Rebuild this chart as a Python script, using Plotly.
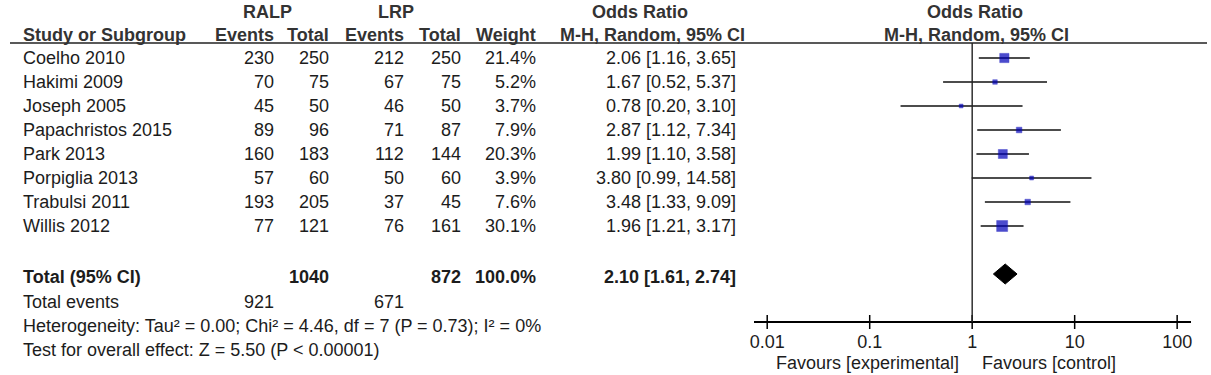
import plotly.graph_objects as go
import numpy as np

# ---------------- data ----------------
studies = ["Coelho 2010", "Hakimi 2009", "Joseph 2005", "Papachristos 2015",
           "Park 2013", "Porpiglia 2013", "Trabulsi 2011", "Willis 2012"]
ralp_events = [230, 70, 45, 89, 160, 57, 193, 77]
ralp_total = [250, 75, 50, 96, 183, 60, 205, 121]
lrp_events = [212, 67, 46, 71, 112, 50, 37, 76]
lrp_total = [250, 75, 50, 87, 144, 60, 45, 161]
weights = [21.4, 5.2, 3.7, 7.9, 20.3, 3.9, 7.6, 30.1]
odds = [2.06, 1.67, 0.78, 2.87, 1.99, 3.80, 3.48, 1.96]
ci_low = [1.16, 0.52, 0.20, 1.12, 1.10, 0.99, 1.33, 1.21]
ci_high = [3.65, 5.37, 3.10, 7.34, 3.58, 14.58, 9.09, 3.17]

total_ralp = 1040
total_lrp = 872
total_weight = 100.0
pooled_or = 2.10
pooled_low = 1.61
pooled_high = 2.74
events_ralp = 921
events_lrp = 671
heterogeneity = "Heterogeneity: Tau² = 0.00; Chi² = 4.46, df = 7 (P = 0.73); I² = 0%"
overall = "Test for overall effect: Z = 5.50 (P < 0.00001)"
tick_vals = [0.01, 0.1, 1, 10, 100]
tick_text = ["0.01", "0.1", "1", "10", "100"]

# ---------------- layout geometry (window pixels) ----------------
W, H = 1211, 375
row0, row_step = 58, 24.0
row_y = [row0 + row_step * i for i in range(len(studies))]
y_total, y_events, y_het, y_test = 277, 302, 326, 350
y_axis = 322
y_head1, y_head2 = 12, 35
y_rule = 43
x_left = 16

px_left, px_right = 753, 1192
px_one, px_decade = 972, 103.0
lrange = [(px_left - px_one) / px_decade, (px_right - px_one) / px_decade]

FONT = "Liberation Sans, Arial, sans-serif"
FS = 18
TXT = "#1c1c1c"
HDR = "#333333"
BLUE = "#0000b8"

fig = go.Figure()

# CI lines
for i in range(len(studies)):
    fig.add_trace(go.Scatter(x=[ci_low[i], ci_high[i]], y=[row_y[i], row_y[i]],
                             mode="lines", line=dict(color="#111111", width=1.5),
                             xaxis="x", yaxis="y", hoverinfo="skip", showlegend=False))
# squares
sizes = [2.0 * np.sqrt(w) for w in weights]
fig.add_trace(go.Scatter(x=odds, y=row_y, mode="markers",
                         marker=dict(symbol="square", size=sizes, color=BLUE,
                                     line=dict(width=0.5, color=BLUE)),
                         xaxis="x", yaxis="y", showlegend=False))
# diamond
dh = 10
yc = y_total - 3
fig.add_trace(go.Scatter(x=[pooled_low, pooled_or, pooled_high, pooled_or, pooled_low],
                         y=[yc, yc - dh, yc, yc + dh, yc],
                         mode="lines", fill="toself", fillcolor="black",
                         line=dict(color="black", width=1),
                         xaxis="x", yaxis="y", showlegend=False))
# axis ticks (crossing the axis line)
fig.add_trace(go.Scatter(x=tick_vals, y=[y_axis] * len(tick_vals), mode="markers",
                         marker=dict(symbol="line-ns", size=10,
                                     line=dict(width=1.5, color="black")),
                         xaxis="x", yaxis="y", showlegend=False, hoverinfo="skip"))

shapes = [
    dict(type="line", xref="x2", yref="y", x0=5, x1=1208, y0=y_rule, y1=y_rule,
         line=dict(color="#222222", width=1.5)),
    dict(type="line", xref="x", yref="y", x0=1, x1=1, y0=y_rule, y1=y_axis,
         line=dict(color="#222222", width=1.4)),
]

ann = []

def t(x, y, s, anchor="left", bold=False, color=TXT, size=FS):
    ann.append(dict(x=x, y=y, xref="x2", yref="y", text=(f"<b>{s}</b>" if bold else s),
                    showarrow=False, xanchor=anchor, yanchor="middle",
                    font=dict(family=FONT, size=size, color=color)))

# headers
t(264, y_head1, "RALP", "center", True, HDR)
t(393, y_head1, "LRP", "center", True, HDR)
t(638, y_head1, "Odds Ratio", "center", True, HDR)
t(975, y_head1, "Odds Ratio", "center", True, HDR)
t(x_left, y_head2, "Study or Subgroup", "left", True, HDR)
t(272, y_head2, "Events", "right", True, HDR)
t(328, y_head2, "Total", "right", True, HDR)
t(403, y_head2, "Events", "right", True, HDR)
t(460, y_head2, "Total", "right", True, HDR)
t(536, y_head2, "Weight", "right", True, HDR)
t(651, y_head2, "M-H, Random, 95% CI", "center", True, HDR)
t(976, y_head2, "M-H, Random, 95% CI", "center", True, HDR)

for i, s in enumerate(studies):
    y = row_y[i]
    t(x_left, y, s)
    t(272, y, str(ralp_events[i]), "right")
    t(328, y, str(ralp_total[i]), "right")
    t(403, y, str(lrp_events[i]), "right")
    t(460, y, str(lrp_total[i]), "right")
    t(536, y, f"{weights[i]:.1f}%", "right")
    t(737, y, f"{odds[i]:.2f} [{ci_low[i]:.2f}, {ci_high[i]:.2f}]", "right")

t(x_left, y_total, "Total (95% CI)", "left", True)
t(328, y_total, str(total_ralp), "right", True)
t(460, y_total, str(total_lrp), "right", True)
t(536, y_total, f"{total_weight:.1f}%", "right", True)
t(737, y_total, f"{pooled_or:.2f} [{pooled_low:.2f}, {pooled_high:.2f}]", "right", True)
t(x_left, y_events, "Total events")
t(272, y_events, str(events_ralp), "right")
t(403, y_events, str(events_lrp), "right")
t(x_left, y_het, heterogeneity)
t(x_left, y_test, overall)
t(961, 363, "Favours [experimental]", "right")
t(980, 363, "Favours [control]", "left")

fig.update_layout(
    width=W, height=H, margin=dict(l=0, r=0, t=0, b=0),
    paper_bgcolor="white", plot_bgcolor="rgba(0,0,0,0)",
    showlegend=False,
    xaxis=dict(type="log", range=lrange,
               domain=[px_left / W, px_right / W],
               anchor="free", position=1 - y_axis / H,
               showline=True, linecolor="black", linewidth=1.5,
               showgrid=False, zeroline=False, ticks="",
               tickvals=tick_vals, ticktext=tick_text,
               tickfont=dict(family=FONT, size=FS, color=TXT),
               ticklabelstandoff=4, fixedrange=True),
    xaxis2=dict(range=[0, W], domain=[0, 1], visible=False, anchor="y",
                fixedrange=True),
    yaxis=dict(range=[H, 0], domain=[0, 1], visible=False, fixedrange=True),
    shapes=shapes, annotations=ann,
)

fig.write_html("out.html", config={"displayModeBar": False},
               post_script="document.body.style.margin='0';"
                           "document.body.style.overflow='hidden';")
